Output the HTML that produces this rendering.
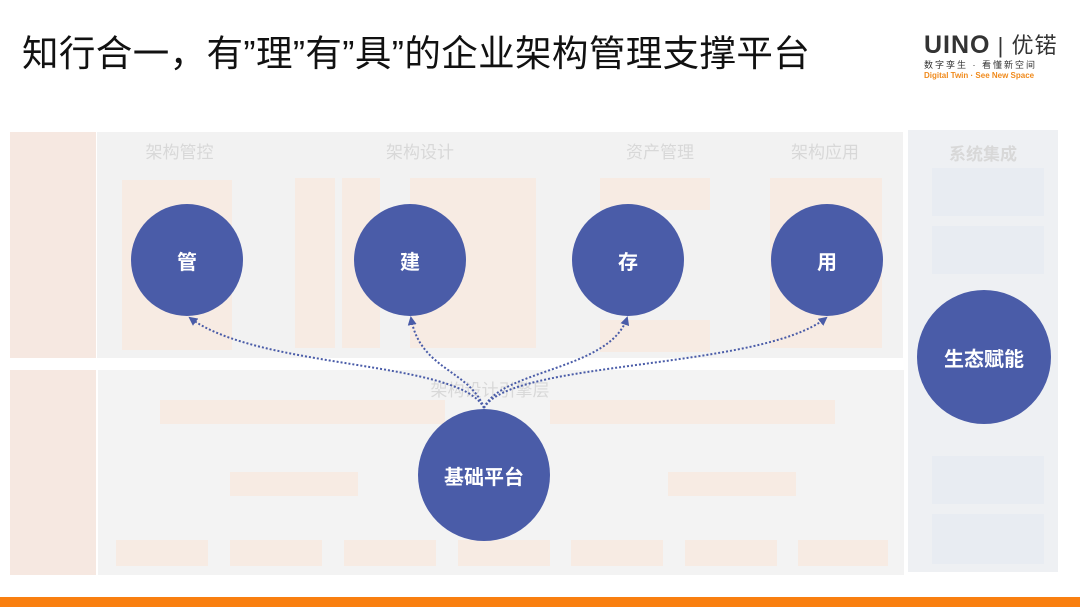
<!DOCTYPE html>
<html><head><meta charset="utf-8"><style>
body{margin:0;width:1080px;height:607px;background:#fff;position:relative;overflow:hidden;font-family:"Liberation Sans","Noto Sans CJK SC",sans-serif}
.a{position:absolute}
.t{position:absolute;color:#d8d8d8;font-size:17px;text-align:center}
.pb{position:absolute;background:#f7ebe3}
.c{position:absolute;border-radius:50%;background:#4a5ca8;color:#fff;font-weight:bold;display:flex;align-items:center;justify-content:center;font-size:20px}
</style></head><body>
<div class="a" style="left:22px;top:24px;font-size:36.5px;color:#111;white-space:nowrap;letter-spacing:0.4px">知行合一，有”理”有”具”的企业架构管理支撑平台</div>
<div class="a" style="left:924px;top:28px;font-size:25px;font-weight:bold;color:#333;letter-spacing:1px">UINO<span style="font-weight:normal;font-size:22px"> | 优锘</span></div>
<div class="a" style="left:924px;top:58px;font-size:9px;color:#333;letter-spacing:2px">数字孪生 · 看懂新空间</div>
<div class="a" style="left:924px;top:71px;font-size:8px;color:#f08a1c;font-weight:bold">Digital Twin · See New Space</div>

<div class="a" style="left:10px;top:132px;width:86px;height:226px;background:#f6e8e1"></div>
<div class="a" style="left:97px;top:132px;width:806px;height:226px;background:#f2f2f2"></div>
<div class="a" style="left:10px;top:370px;width:86px;height:205px;background:#f6e8e1"></div>
<div class="a" style="left:98px;top:370px;width:806px;height:205px;background:#f3f3f3"></div>
<div class="a" style="left:908px;top:130px;width:150px;height:442px;background:#eef0f3"></div>
<div class="t" style="left:97px;top:138px;width:165px">架构管控</div>
<div class="t" style="left:330px;top:138px;width:180px">架构设计</div>
<div class="t" style="left:580px;top:138px;width:160px">资产管理</div>
<div class="t" style="left:745px;top:138px;width:160px">架构应用</div>
<div class="t" style="left:908px;top:140px;width:150px;font-weight:bold">系统集成</div>
<div class="pb" style="left:122px;top:180px;width:110px;height:170px"></div>
<div class="pb" style="left:295px;top:178px;width:40px;height:170px"></div>
<div class="pb" style="left:342px;top:178px;width:38px;height:170px"></div>
<div class="pb" style="left:410px;top:178px;width:126px;height:170px"></div>
<div class="pb" style="left:600px;top:178px;width:110px;height:32px"></div>
<div class="pb" style="left:600px;top:320px;width:110px;height:32px"></div>
<div class="pb" style="left:770px;top:178px;width:112px;height:170px"></div>
<div class="a" style="left:932px;top:168px;width:112px;height:48px;background:#e8ecf2"></div>
<div class="a" style="left:932px;top:226px;width:112px;height:48px;background:#e8ecf2"></div>
<div class="a" style="left:932px;top:456px;width:112px;height:48px;background:#e8ecf2"></div>
<div class="a" style="left:932px;top:514px;width:112px;height:50px;background:#e8ecf2"></div>
<div class="t" style="left:410px;top:376px;width:160px">架构设计引擎层</div>
<div class="pb" style="left:160px;top:400px;width:285px;height:24px"></div>
<div class="pb" style="left:550px;top:400px;width:285px;height:24px"></div>
<div class="pb" style="left:230px;top:472px;width:128px;height:24px"></div>
<div class="pb" style="left:668px;top:472px;width:128px;height:24px"></div>
<div class="pb" style="left:116px;top:540px;width:92px;height:26px"></div>
<div class="pb" style="left:230px;top:540px;width:92px;height:26px"></div>
<div class="pb" style="left:344px;top:540px;width:92px;height:26px"></div>
<div class="pb" style="left:458px;top:540px;width:92px;height:26px"></div>
<div class="pb" style="left:571px;top:540px;width:92px;height:26px"></div>
<div class="pb" style="left:685px;top:540px;width:92px;height:26px"></div>
<div class="pb" style="left:798px;top:540px;width:90px;height:26px"></div>

<svg class="a" style="left:0;top:0" width="1080" height="607">
<defs><marker id="m" markerUnits="userSpaceOnUse" markerWidth="9" markerHeight="9" refX="7" refY="4.5" orient="auto"><path d="M0,0L9,4.5L0,9z" fill="#4a5ca8"/></marker></defs>
<g fill="none" stroke="#4a5ca8" stroke-width="2" stroke-dasharray="2,2">
<path d="M484,408 C460,360 260,370 190,318" marker-end="url(#m)"/>
<path d="M484,408 C470,370 420,370 411,318" marker-end="url(#m)"/>
<path d="M484,408 C500,370 610,370 627,318" marker-end="url(#m)"/>
<path d="M484,408 C510,360 760,370 826,318" marker-end="url(#m)"/>
</g></svg>

<div class="c" style="left:131px;top:204px;width:112px;height:112px">管</div>
<div class="c" style="left:354px;top:204px;width:112px;height:112px">建</div>
<div class="c" style="left:572px;top:204px;width:112px;height:112px">存</div>
<div class="c" style="left:771px;top:204px;width:112px;height:112px">用</div>
<div class="c" style="left:917px;top:290px;width:134px;height:134px">生态赋能</div>
<div class="c" style="left:418px;top:409px;width:132px;height:132px">基础平台</div>
<div class="a" style="left:0;top:597px;width:1080px;height:10px;background:#f97f10"></div>
</body></html>
